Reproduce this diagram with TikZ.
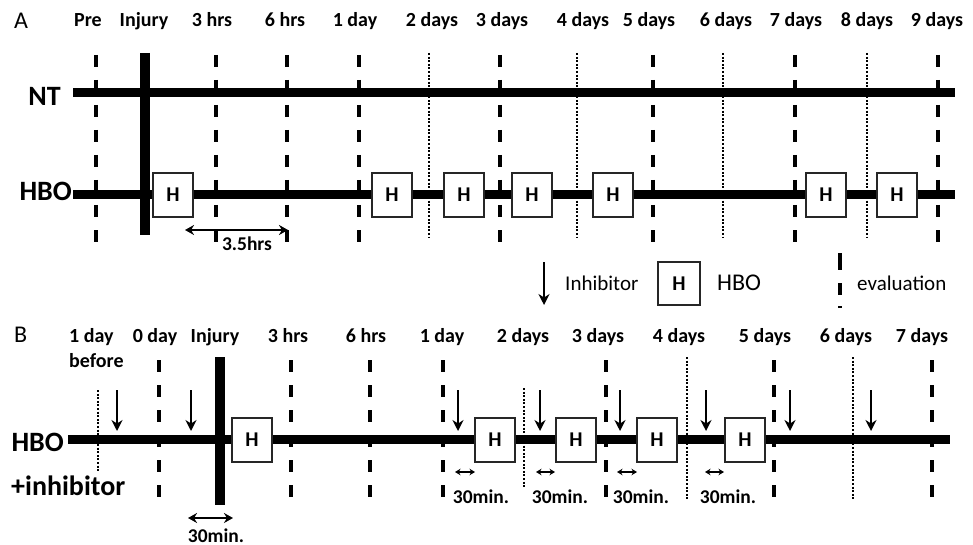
\documentclass[tikz,border=0pt]{standalone}
\usepackage{fontspec}
\setmainfont{Carlito}
\usetikzlibrary{arrows.meta}
\begin{document}
\begin{tikzpicture}[x=1pt,y=-1pt,
 tl/.style={font=\fontsize{20}{22}\selectfont\bfseries,inner sep=0pt,anchor=base},
 rowlbl/.style={font=\fontsize{28}{30}\selectfont\bfseries,inner sep=0pt,anchor=base east},
 panel/.style={font=\fontsize{24}{26}\selectfont,inner sep=0pt,anchor=base west},
 legtxt/.style={font=\fontsize{21}{24}\selectfont,inner sep=0pt,anchor=base west},
 tline/.style={line width=9pt},
 injbar/.style={line width=10pt},
 evaldash/.style={line width=3.5pt,dash pattern=on 12pt off 13pt},
 evaldot/.style={line width=2.6pt,dash pattern=on 2pt off 1.6pt},
 hbox/.style={draw=black!85,line width=1.2pt,fill=white,minimum width=40pt,minimum height=44pt,inner sep=0pt,font=\fontsize{21}{22}\selectfont\bfseries},
 inh/.style={line width=2.8pt,-{Stealth[length=11pt,width=11pt]}},
 spanarrow/.style={line width=2.5pt,{Stealth[length=9pt,width=10pt]}-{Stealth[length=9pt,width=10pt]}},
 smallspan/.style={line width=1.3pt,{Stealth[length=5.5pt,width=6.5pt]}-{Stealth[length=5.5pt,width=6.5pt]}},
 note/.style={font=\fontsize{19.5}{22}\selectfont\bfseries,inner sep=0pt,anchor=base},
]
\useasboundingbox (0,0) rectangle (973,545);

% ---------------- Panel A ----------------
\node[panel] (A) at (14,29) {A};
\foreach \x/\t/\n in {88/Pre/ta0,144/Injury/ta1,212/3 hrs/ta2,285/6 hrs/ta3,355/1 day/ta4,432/2 days/ta5,502/3 days/ta6,583/4 days/ta7,649/5 days/ta8,726/6 days/ta9,796/7 days/ta10,867/8 days/ta11,937/9 days/ta12}
  \node[tl] (\n) at (\x,27) {\t};

\node[rowlbl] (NT) at (61,106) {NT};
\node[rowlbl] (HBOa) at (72,201) {HBO};

\coordinate (ntL) at (73,93); \coordinate (ntR) at (955,93);
\coordinate (haL) at (73,195); \coordinate (haR) at (955,195);
\draw[tline] (ntL) -- (ntR);
\draw[tline] (haL) -- (haR);

\foreach \x [count=\i] in {96,216,287,359,500,653,795,938}{
  \coordinate (ea\i t) at (\x,55); \coordinate (ea\i b) at (\x,242);
  \draw[evaldash] (ea\i t) -- (ea\i b);
}
\foreach \x [count=\i] in {429,577,723,867}{
  \coordinate (da\i t) at (\x,53); \coordinate (da\i b) at (\x,238);
  \draw[evaldot] (da\i t) -- (da\i b);
}
\coordinate (injAt) at (145,53); \coordinate (injAb) at (145,235);
\draw[injbar] (injAt) -- (injAb);

\foreach \x [count=\i] in {173,392,464,532,613,826,897}
  \node[hbox] (ha\i) at (\x,195) {H};

\coordinate (s1) at (185,230); \coordinate (s2) at (288,230);
\draw[spanarrow] (s1) -- (s2);
\node[note] (l35) at (247,250) {3.5hrs};

% ---------------- Legend ----------------
\coordinate (legAt) at (544,262); \coordinate (legAb) at (544,305);
\draw[inh] (legAt) -- (legAb);
\node[legtxt] (legInh) at (565,290) {Inhibitor};
\node[hbox,minimum width=42pt,minimum height=43pt] (legH) at (679,283.5) {H};
\node[legtxt,font=\fontsize{24}{26}\selectfont] (legHBO) at (717,290) {HBO};
\coordinate (legEt) at (840,253); \coordinate (legEb) at (840,309);
\draw[line width=3.5pt,dash pattern=on 17pt off 13pt on 12pt off 11pt on 2pt off 10pt] (legEt) -- (legEb);
\node[legtxt] (legEval) at (857,290) {evaluation};

% ---------------- Panel B ----------------
\node[panel] (B) at (14,342) {B};
\node[tl,anchor=base west] (tb0) at (69,342) {1 day};
\node[tl,anchor=base west] (tb0b) at (69,367) {before};
\foreach \x/\t/\n in {155/0 day/tb1,215/Injury/tb2,288/3 hrs/tb3,366/6 hrs/tb4,442/1 day/tb5,523/2 days/tb6,598/3 days/tb7,679/4 days/tb8,765/5 days/tb9,846/6 days/tb10,922/7 days/tb11}
  \node[tl] (\n) at (\x,342) {\t};

\node[rowlbl] (HBOb) at (64,451) {HBO};
\node[rowlbl,anchor=base west] (inhb) at (11,495) {+inhibitor};

\coordinate (hbL) at (68,439); \coordinate (hbR) at (950,439);
\draw[tline] (hbL) -- (hbR);

\foreach \x [count=\i] in {159,291,370,443,606,774,932}{
  \coordinate (eb\i t) at (\x,360); \coordinate (eb\i b) at (\x,502);
  \draw[evaldash] (eb\i t) -- (eb\i b);
}
\foreach \x/\ya/\yb [count=\i] in {98/390/472,524/388/488,687/357/500,853/357/500}{
  \coordinate (db\i t) at (\x,\ya); \coordinate (db\i b) at (\x,\yb);
  \draw[evaldot] (db\i t) -- (db\i b);
}
\coordinate (injBt) at (220,357); \coordinate (injBb) at (220,505);
\draw[injbar] (injBt) -- (injBb);

\foreach \x [count=\i] in {117,191,458,540,620,706,790,871}{
  \coordinate (ib\i t) at (\x,390); \coordinate (ib\i b) at (\x,431);
  \draw[inh] (ib\i t) -- (ib\i b);
}

\foreach \x [count=\i] in {252,495,576,657,745}
  \node[hbox] (hb\i) at (\x,440) {H};

\foreach \xa/\xb/\xl [count=\i] in {455/475/481,536/555/560,617/637/641,705/724/728}{
  \coordinate (sa\i) at (\xa,472); \coordinate (sb\i) at (\xb,472);
  \draw[smallspan] (sa\i) -- (sb\i);
  \node[note] (m\i) at (\xl,503) {30min.};
}
\coordinate (ij1) at (188,518); \coordinate (ij2) at (233,518);
\draw[spanarrow] (ij1) -- (ij2);
\node[note] (m0) at (216,542) {30min.};
\end{tikzpicture}
\end{document}
